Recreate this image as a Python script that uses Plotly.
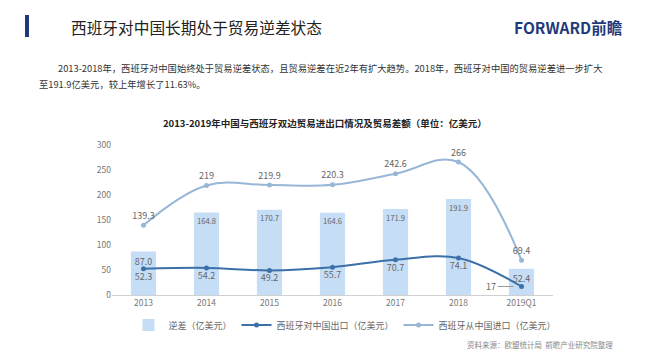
import plotly.graph_objects as go

categories = ["2013", "2014", "2015", "2016", "2017", "2018", "2019Q1"]
deficit = [87.0, 164.8, 170.7, 164.6, 171.9, 191.9, 52.4]
exports = [52.3, 54.2, 49.2, 55.7, 70.7, 74.1, 17]
imports = [139.3, 219, 219.9, 220.3, 242.6, 266, 69.4]
y_ticks = [0, 50, 100, 150, 200, 250, 300]

name_def = "逆差（亿美元）"
name_exp = "西班牙对中国出口（亿美元）"
name_imp = "西班牙从中国进口（亿美元）"

FONT = "Noto Sans CJK SC"
C_BAR = "#c6ddf6"
C_EXP = "#3c70a8"
C_IMP = "#98b6d6"
C_LBL = "#666666"

fig = go.Figure()
fig.add_trace(go.Bar(
    x=categories, y=deficit, name=name_def, width=0.4,
    marker=dict(color=C_BAR, line=dict(width=0)),
    text=[f"{v:.1f}" for v in deficit], textposition="inside",
    insidetextanchor="end", textangle=0,
    textfont=dict(size=9, color=C_LBL, family=FONT),
))
fig.add_trace(go.Scatter(
    x=categories, y=exports, name=name_exp, mode="lines+markers+text",
    line=dict(color=C_EXP, width=2, shape="spline", smoothing=1.0),
    marker=dict(size=5, color=C_EXP),
    text=[str(v) for v in exports[:-1]] + [""], textposition="bottom center",
    textfont=dict(size=9, color=C_LBL, family=FONT),
))
fig.add_trace(go.Scatter(
    x=categories, y=imports, name=name_imp, mode="lines+markers+text",
    line=dict(color=C_IMP, width=2, shape="spline", smoothing=1.1),
    marker=dict(size=5, color=C_IMP),
    text=[str(v) for v in imports], textposition="top center",
    textfont=dict(size=9, color=C_LBL, family=FONT),
))

# leader label for last export value
fig.add_annotation(
    x=categories[-1], y=exports[-1], xref="x", yref="y",
    text=str(exports[-1]), showarrow=True, arrowhead=0, arrowwidth=1,
    arrowcolor="#999999", ax=-24, ay=0, standoff=8, xanchor="right",
    font=dict(size=9, color=C_LBL, family=FONT),
)

def px_x(x):
    return (x - 112) / 441

def px_y(y):
    return (295 - y) / 150

# header bar
fig.add_shape(type="rect", xref="paper", yref="paper",
              x0=px_x(25), x1=px_x(29), y0=px_y(15), y1=px_y(37),
              fillcolor="#1f3a7a", line=dict(width=0))

fig.add_annotation(xref="paper", yref="paper", x=px_x(69), y=px_y(27),
                   xanchor="left", yanchor="middle", showarrow=False,
                   text="西班牙对中国长期处于贸易逆差状态",
                   font=dict(size=15.7, color="#222222", family=FONT))
fig.add_annotation(xref="paper", yref="paper", x=px_x(624), y=px_y(27),
                   xanchor="right", yanchor="middle", showarrow=False,
                   text="<b>FORWARD前瞻</b>",
                   font=dict(size=15.5, color="#1f3a7a", family=FONT))
fig.add_annotation(xref="paper", yref="paper", x=px_x(56), y=px_y(68),
                   xanchor="left", yanchor="middle", showarrow=False,
                   text="2013-2018年，西班牙对中国始终处于贸易逆差状态，且贸易逆差在近2年有扩大趋势。2018年，西班牙对中国的贸易逆差进一步扩大",
                   font=dict(size=9.3, color="#333333", family=FONT))
fig.add_annotation(xref="paper", yref="paper", x=px_x(37), y=px_y(84),
                   xanchor="left", yanchor="middle", showarrow=False,
                   text="至191.9亿美元，较上年增长了11.63%。",
                   font=dict(size=9.3, color="#333333", family=FONT))
fig.add_annotation(xref="paper", yref="paper", x=px_x(325), y=px_y(123),
                   xanchor="center", yanchor="middle", showarrow=False,
                   text="<b>2013-2019年中国与西班牙双边贸易进出口情况及贸易差额（单位：亿美元）</b>",
                   font=dict(size=9.5, color="#222222", family=FONT))
fig.add_annotation(xref="paper", yref="paper", x=px_x(615), y=px_y(344),
                   xanchor="right", yanchor="middle", showarrow=False,
                   text="资料来源：欧盟统计局  前瞻产业研究院整理",
                   font=dict(size=7.5, color="#888888", family=FONT))

fig.update_layout(
    width=650, height=358,
    margin=dict(l=112, r=97, t=145, b=63, autoexpand=False),
    paper_bgcolor="white", plot_bgcolor="white",
    font=dict(family=FONT, size=9, color=C_LBL),
    bargap=0.6,
    legend=dict(orientation="h", x=px_x(345), y=px_y(325),
                xanchor="center", yanchor="middle",
                font=dict(size=9, color=C_LBL, family=FONT),
                itemwidth=30, tracegroupgap=0),
    xaxis=dict(showgrid=False, showline=True, linecolor="#d0d0d0",
               linewidth=1, ticks="", tickfont=dict(size=8.5, color="#777777")),
    yaxis=dict(range=[0, 300], tickvals=y_ticks, showgrid=False,
               zeroline=False, showline=False,
               tickfont=dict(size=8.5, color="#777777")),
    showlegend=True,
)

fig.write_html("out.html",
               config={"displayModeBar": False},
               post_script="document.body.style.margin='0';document.body.style.overflow='hidden';")
